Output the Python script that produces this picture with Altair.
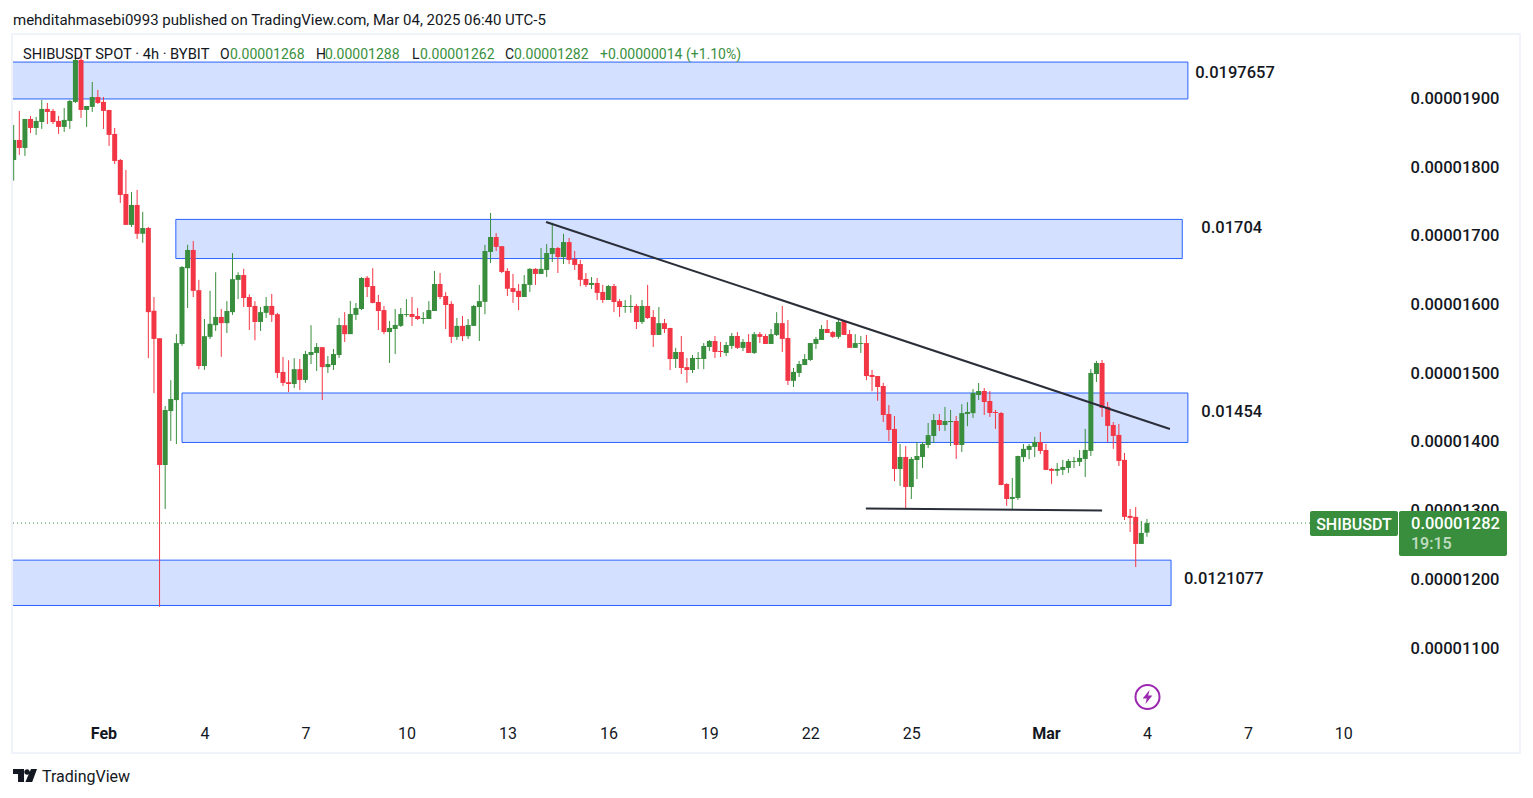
import altair as alt
import pandas as pd

# Prices in units of 1e-8 USDT, one entry per 4h candle
opens = [1810.5,1839.6,1828,1870.2,1857.1,1865.8,1884.8,1881.9,1867.3,1858.6,
 1867.3,1895,1956.1,1883.3,1887.7,1902.2,1895,1883.3,1848.4,1810.5,
 1761,1716,1745,1703,1711.5,1591,1551,1366.5,1445,1461,
 1542.7,1653,1679.5,1621,1510.6,1553,1570,1582,1573,1589,
 1636,1643,1611,1598,1574.7,1588,1598,1586,1502,1487,
 1484.4,1506,1490.3,1526.6,1529.6,1538,1509,1512,1526.6,1570,
 1557,1585,1593.6,1639,1627,1603.8,1592,1560,1564.5,1569,
 1585,1586.3,1583.4,1579,1579,1590.7,1630,1612.5,1601,1553,
 1569,1554,1569,1596.5,1604,1676.6,1698.4,1685,1649,1624,
 1620,1611,1628.6,1652,1644.6,1650.4,1673.7,1682.4,1669.3,1691,
 1666.4,1659,1637.3,1628.6,1631.5,1618.4,1606.7,1627,1605,1596.5,
 1596.5,1598,1574.7,1598,1582,1555.8,1573,1566,1520.8,1531,
 1509,1504.8,1520.8,1520.8,1538.3,1547,1532.5,1529.6,1539.8,1554.3,
 1537,1545.6,1529.6,1557,1554.3,1542.7,1555.8,1573,1551.4,1489,
 1500.5,1512,1519.4,1542.7,1548.5,1564.5,1560,1553,1576,1557,
 1537,1542.7,1544,1497.5,1496,1481.5,1440.8,1419,1360.7,1378.2,
 1334.5,1373.8,1378.2,1395.6,1408.7,1432,1424.7,1429,1430.6,1395.6,
 1440.8,1442,1468.4,1474.2,1459.7,1443.7,1442.2,1338.9,1317,1318.5,
 1378,1388.4,1392.8,1400,1388.4,1360.8,1358,1359.3,1362.2,1371,
 1371,1375.3,1387,1499,1515,1451,1424.8,1410.3,1374,1292.4,
 1291,1251.6,1268]
highs = [1861.5,1881.9,1870.2,1874.6,1873.1,1897.9,1893.5,1884.8,1874.6,1886.2,
 1897.9,1963.4,1967.7,1889.1,1924,1912.4,1902.2,1883.3,1857.1,1812,
 1796,1764,1767,1735,1713,1611,1551,1452.4,1490,1557,
 1656,1687,1692.6,1636,1579,1620,1647,1593.6,1605,1675,
 1647,1652,1615,1605,1596.5,1611,1615.5,1588,1523.7,1519,
 1522,1520.8,1532.5,1570,1544,1538.3,1525,1535.4,1580.5,1589,
 1605.3,1602.3,1640,1641.6,1653,1614,1598,1576,1593.6,1595,
 1608,1611,1595,1589,1605,1649,1646,1618,1605,1580.5,
 1583.4,1579,1599.4,1628.6,1687,1733.4,1704,1685,1653,1644.6,
 1630,1643,1653,1653,1682.4,1688,1719,1684,1703,1697,
 1678,1665,1646,1640,1638.7,1628.6,1628.6,1630,1608,1606.7,
 1614,1601,1606.7,1628.6,1592,1596.5,1579,1566,1537,1554.3,
 1522.3,1526.6,1531,1544,1548.5,1554.3,1545.6,1545.6,1558.7,1560,
 1550,1557,1560,1560,1557,1564.5,1589,1598,1577.6,1507.7,
 1518,1528,1544,1553,1570.3,1577.6,1561.6,1579,1577.6,1563,
 1557,1554.3,1555.8,1505,1496,1486,1453.8,1437.8,1397,1394,
 1378.2,1400,1400,1427.7,1440.8,1440.8,1451,1446.6,1437.8,1455,
 1458,1477,1485.9,1478.6,1474,1446.6,1443.7,1340,1347.7,1380,
 1397,1397,1407.4,1414.6,1397,1362.2,1369.5,1374,1375.3,1378.2,
 1388.4,1419,1506,1518,1519.4,1458.3,1429,1426.3,1384,1302.6,
 1305.5,1285,1288]
lows = [1780.4,1817.8,1816.4,1849.8,1846.9,1855.7,1862.9,1862.9,1848.4,1851.3,
 1855.7,1893.5,1871.7,1858.6,1880.4,1892,1855.7,1830.9,1804.7,1748,
 1716,1713,1695.5,1690,1522,1471,1160,1302.5,1401.5,1397,
 1540,1595,1611,1506,1505,1550,1561.6,1524,1558.7,1585,
 1608,1596.5,1563,1548,1561.6,1580.5,1574.7,1493,1481.5,1472.8,
 1478.6,1475.7,1486,1513.5,1503.4,1461,1500.5,1504.8,1522.3,1545.6,
 1557,1577.6,1592,1611,1602,1563,1557,1515,1528,1567.4,
 1582,1569,1577.6,1572,1579,1590.7,1608,1564.5,1544,1548.5,
 1547,1550,1569,1547,1586,1660.6,1678,1646,1612.5,1602.4,
 1592,1611,1618.4,1628.6,1644.6,1640,1662,1646,1659,1659,
 1650.4,1627,1625.6,1622.7,1606.7,1602.4,1606.7,1589,1582,1588,
 1588,1564.5,1571.8,1579,1538.3,1555.8,1558.7,1504.8,1507.7,1499,
 1486,1500.5,1506,1506,1532.5,1522.3,1523.7,1525,1535.4,1535.4,
 1532.5,1529.6,1528,1544,1542.7,1542.7,1554.3,1531,1483,1480,
 1494.6,1512,1518,1535.4,1548.5,1558.7,1551.4,1550,1555.8,1537,
 1537,1529.6,1490,1474,1460,1429,1401.5,1343,1336,1304,
 1317,1346,1362,1391,1398.5,1416,1416,1394,1375.3,1385.5,
 1423,1435,1461,1439.3,1436.4,1419,1337,1307,1302,1315.6,
 1371,1375,1378,1382.6,1359.3,1339,1350.6,1352,1355,1362,
 1365,1349,1379.7,1487.4,1436.5,1400,1390,1365,1286.5,1269,
 1218,1251.6,1262]
closes = [1839.6,1828,1870.2,1857.1,1867.3,1884.8,1880.4,1865.8,1858.6,1868.8,
 1896.4,1956.1,1883.3,1889.1,1902.2,1893.5,1881.9,1847,1809.1,1759.6,
 1716,1745,1703,1711.5,1589,1550,1366.5,1446.6,1462.6,1544,
 1654.7,1679.5,1620,1510.6,1554,1572,1582,1573,1590.7,1637,
 1643,1609.6,1596.5,1574.7,1589,1598,1585,1500.5,1486,1484.4,
 1506,1490.3,1528,1531,1538.3,1509,1513.5,1528,1570.3,1557,
 1586.3,1595,1638.7,1625.6,1602.4,1590.7,1560,1566,1570.3,1586.3,
 1586.3,1582,1579,1580.5,1592,1630,1611,1599.4,1553,1569,
 1554,1570.3,1598,1605,1678,1698.4,1684,1647.5,1623,1618.4,
 1611,1630,1652,1644.6,1652,1675,1682.4,1669.3,1691,1665,
 1657.7,1636,1628.6,1631.5,1617,1606.7,1627,1603.8,1596.5,1598,
 1598,1574.7,1598,1580.5,1555.8,1573,1564.5,1520.8,1531,1507.7,
 1504.8,1522.3,1522.3,1539.8,1547,1531,1531,1541.2,1554.3,1537,
 1545.6,1529.6,1557,1553,1542.7,1557,1573,1550,1489,1502,
 1513.5,1520.8,1544,1550,1564.5,1558.7,1553,1574.7,1555.8,1537,
 1544,1544,1496,1494.6,1480,1439.3,1417.5,1360.7,1378.2,1334.5,
 1375.3,1379.6,1397,1410,1432,1424.7,1430.6,1430.6,1395.6,1442,
 1443.7,1471.3,1474.2,1458.2,1442.2,1442.2,1337.4,1317,1320,1379.6,
 1390,1394.3,1400,1387,1359.3,1358,1360.8,1363.7,1372.4,1372.4,
 1376.8,1388.4,1500.5,1515,1449.6,1423.4,1408.8,1372.4,1291,1289.5,
 1251.6,1267.6,1282]

price_ticks = [1100, 1200, 1300, 1400, 1500, 1600, 1700, 1800, 1900]
date_pos = [16, 34, 52, 70, 88, 106, 124, 142, 160, 184, 202, 220, 237]
date_txt = ["Feb", "4", "7", "10", "13", "16", "19", "22", "25", "Mar", "4", "7", "10"]

zone_i0 = [-1.5, 28.9, 30, -1.5]
zone_i1 = [209.3, 208.3, 209.3, 206.3]
zone_hi = [1953, 1724, 1471.3, 1228]
zone_lo = [1899.3, 1667, 1399.3, 1162]
zone_lab = ["0.0197657", "0.01704", "0.01454", "0.0121077"]
zone_lab_i = [210.6, 211.7, 211.7, 208.6]
zone_lab_p = [1937.6, 1712, 1444, 1201]

trend_i = [94.9, 206.1]
trend_p = [1720.2, 1418.9]
base_i = [151.9, 194]
base_p = [1303.2, 1300.3]
last_price = 1282

GREEN, RED, BLUE, INK = "#388e3c", "#f23645", "#2962ff", "#131722"
FONT = "Roboto"

n = len(opens)
df = pd.DataFrame({"i": list(range(n)), "o": opens, "h": highs, "l": lows, "c": closes})
df["dir"] = ["up" if c >= o else "down" for o, c in zip(opens, closes)]
W, H = 1392, 682
xs = alt.Scale(domain=[-0.125, 248.0], nice=False, zero=False, padding=0)
ys = alt.Scale(domain=[999.7, 1992.4], nice=False, zero=False, padding=0)
col = alt.Color("dir:N", scale=alt.Scale(domain=["up", "down"], range=[GREEN, RED]), legend=None)

label_map = "{" + ",".join(f"{p}:'{t}'" for p, t in zip(date_pos, date_txt)) + "}"
x_axis = alt.Axis(values=date_pos, labelExpr=f"{label_map}[datum.value]", title=None, grid=False,
                  domain=False, ticks=False, labelPadding=8, labelFontSize=16, labelFont=FONT,
                  labelColor=INK, labelAlign="center", labelFlush=False, labelOverlap=False,
                  labelFontWeight=alt.expr("datum.value==16||datum.value==184?'bold':'normal'"))
y_axis = alt.Axis(values=price_ticks, orient="right", labelExpr="format(datum.value/1e8,'.8f')",
                  title=None, grid=False, domain=False, ticks=False, labelPadding=5, labelFontSize=16.5,
                  labelFont=FONT, labelColor=INK, labelFontWeight=500, labelOverlap=False, labelFlush=False)

zones = pd.DataFrame({"a": zone_i0, "b": zone_i1, "t": zone_hi, "u": zone_lo})
zone_layer = alt.Chart(zones).mark_rect(fill=BLUE, fillOpacity=0.2, stroke=BLUE, strokeWidth=1, strokeOpacity=1, clip=True).encode(
    x=alt.X("a:Q", scale=xs, axis=x_axis), x2="b:Q",
    y=alt.Y("t:Q", scale=ys, axis=y_axis), y2="u:Q")
wicks = alt.Chart(df).mark_rule(strokeWidth=1, clip=True).encode(
    x=alt.X("i:Q", scale=xs), y=alt.Y("h:Q", scale=ys), y2="l:Q", color=col)
bodies = alt.Chart(df).mark_bar(width=5, clip=True).encode(
    x=alt.X("i:Q", scale=xs), y=alt.Y("o:Q", scale=ys), y2="c:Q", color=col)

def seg(ix, px):
    return alt.Chart(pd.DataFrame({"i": ix, "p": px})).mark_line(color="#2a2e39", strokeWidth=2).encode(
        x=alt.X("i:Q", scale=xs), y=alt.Y("p:Q", scale=ys))

zone_text = alt.Chart(pd.DataFrame({"i": zone_lab_i, "p": zone_lab_p, "t": zone_lab})).mark_text(
    align="left", baseline="middle", font=FONT, fontSize=16.5, fontWeight=500, color=INK).encode(
    x=alt.X("i:Q", scale=xs), y=alt.Y("p:Q", scale=ys), text="t:N")

last_line = alt.Chart(pd.DataFrame({"p": [last_price]})).mark_rule(color=GREEN, strokeWidth=1, strokeDash=[1, 3]).encode(
    x=alt.value(0), x2=alt.value(1297), y=alt.Y("p:Q", scale=ys))

OX, OY = 13, 35  # page position of plot origin

def box(x0, y0, x1, y1, **kw):
    return alt.Chart(pd.DataFrame({"k": [0]})).mark_rect(**kw).encode(
        x=alt.value(x0 - OX), x2=alt.value(x1 - OX), y=alt.value(y0 - OY), y2=alt.value(y1 - OY))

def label(s, x, y, size=14, color=INK, weight=400, align="left", opacity=1.0):
    return alt.Chart(pd.DataFrame({"t": [s]})).mark_text(
        align=align, baseline="middle", font=FONT, fontSize=size, fontWeight=weight, opacity=opacity, color=color).encode(
        x=alt.value(x - OX), y=alt.value(y - OY), text="t:N")

def glyph(shape, x, y, size, **kw):
    return alt.Chart(pd.DataFrame({"k": [0]})).mark_point(shape=shape, size=size, **kw).encode(
        x=alt.value(x - OX), y=alt.value(y - OY))

frame = box(12, 34, 1520, 753, fillOpacity=0, stroke="#f0f3fa", strokeWidth=2)
tag1 = box(1310, 511, 1398, 536, fill=GREEN, cornerRadius=2)
tag2 = box(1399, 511, 1507, 556, fill=GREEN, cornerRadius=2)

LG = "#3a8f41"
texts = [
    label("mehditahmasebi0993 published on TradingView.com, Mar 04, 2025 06:40 UTC-5", 13, 20, 15),
    label("SHIBUSDT SPOT · 4h · BYBIT", 23, 55, 14.7),
    label("O", 220, 55, 14), label("0.00001268", 230, 55, 14, LG),
    label("H", 316, 55, 14), label("0.00001288", 325, 55, 14, LG),
    label("L", 412, 55, 14), label("0.00001262", 420, 55, 14, LG),
    label("C", 505, 55, 14), label("0.00001282", 514, 55, 14, LG),
    label("+0.00000014 (+1.10%)", 600, 55, 14, LG),
    label("SHIBUSDT", 1354, 524.5, 16, "#ffffff", 500, "center"),
    label("0.00001282", 1411, 523.5, 16.5, "#ffffff", 500),
    label("19:15", 1411, 544, 16, "#ffffff", 500, opacity=0.7),
    label("TradingView", 42, 776.5, 16, "#131722"),
]
PURPLE = "#9c27b0"
icon_ring = glyph("circle", 1147.5, 697, 576, filled=False, stroke=PURPLE, strokeWidth=2, opacity=1)
icon_bolt = glyph("M0.3,-1 L-0.7,0.2 L-0.1,0.2 L-0.3,1 L0.7,-0.2 L0.1,-0.2 Z", 1147.5, 697, 196,
                  filled=True, fill=PURPLE, stroke=PURPLE, strokeWidth=0, opacity=1)
logo = glyph("M-1,-0.54 H-0.08 V0.54 H-0.58 V-0.13 H-1 Z M0.4,-0.29 A0.23,0.23 0 1 1 -0.06,-0.29 A0.23,0.23 0 1 1 0.4,-0.29 Z M0.5,-0.54 H1 L0.6,0.54 H0.03 Z",
             25, 775.5, 576, filled=True, fill=INK, stroke=INK, strokeWidth=0, opacity=1)

chart = alt.layer(
    frame, zone_layer, wicks, bodies, seg(trend_i, trend_p), seg(base_i, base_p), zone_text, last_line,
    tag1, tag2, icon_ring, icon_bolt, logo, *texts
).properties(
    width=W, height=H,
    autosize=alt.AutoSizeParams(type="none"),
    padding={"left": 5, "top": 27, "right": 120, "bottom": 70},
    background="white",
).configure_view(stroke=None)

chart.save("out.html", embed_options={"renderer": "svg", "actions": False})
